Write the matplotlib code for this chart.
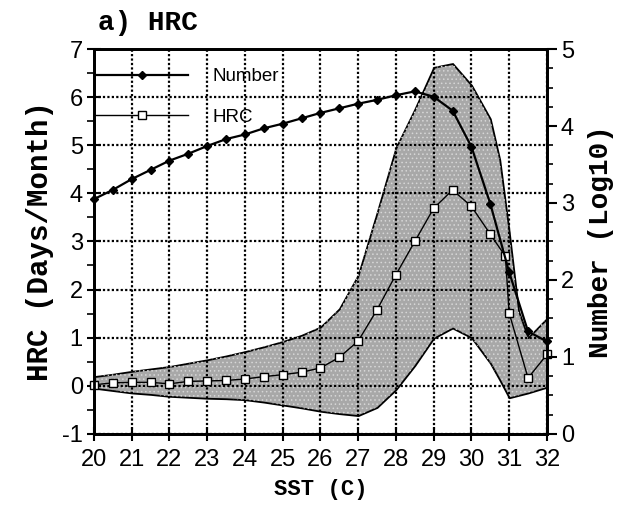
import matplotlib
matplotlib.use("Agg")
import matplotlib.pyplot as plt
from matplotlib.ticker import MultipleLocator

# SST bins (0.5 C steps)
SST = [20, 20.5, 21, 21.5, 22, 22.5, 23, 23.5, 24, 24.5, 25, 25.5, 26,
       26.5, 27, 27.5, 28, 28.5, 29, 29.5, 30, 30.5, 31, 31.5, 32]

# number of samples (log10), right axis
NUMBER = [3.05, 3.17, 3.31, 3.43, 3.55, 3.64, 3.74, 3.83, 3.89, 3.97, 4.03,
          4.10, 4.17, 4.23, 4.29, 4.34, 4.40, 4.45, 4.38, 4.20, 3.73, 2.99,
          2.10, 1.33, 1.20]

# HRC (days/month), left axis
HRC_SST = [20, 20.5, 21, 21.5, 22, 22.5, 23, 23.5, 24, 24.5, 25, 25.5, 26,
           26.5, 27, 27.5, 28, 28.5, 29, 29.5, 30, 30.5, 30.9, 31, 31.5, 32]
HRC = [0.02, 0.06, 0.07, 0.07, 0.04, 0.09, 0.10, 0.11, 0.14, 0.19, 0.23,
       0.28, 0.37, 0.59, 0.93, 1.58, 2.31, 3.0, 3.69, 4.07, 3.73, 3.15,
       2.69, 1.51, 0.16, 0.65]

# shaded spread band
BAND_SST = [20, 20.5, 21, 21.5, 22, 22.5, 23, 23.5, 24, 24.5, 25, 25.5, 26,
            26.5, 27, 27.5, 28, 28.5, 29, 29.5, 30, 30.5, 30.75, 31, 31.25,
            31.5, 32]
BAND_HI = [0.19, 0.24, 0.30, 0.35, 0.40, 0.47, 0.54, 0.62, 0.71, 0.81, 0.92,
           1.05, 1.22, 1.60, 2.30, 3.60, 4.95, 5.75, 6.62, 6.70, 6.25, 5.55,
           4.70, 3.20, 1.55, 1.00, 1.40]
BAND_LO = [-0.05, -0.10, -0.15, -0.18, -0.22, -0.24, -0.26, -0.27, -0.29,
           -0.34, -0.40, -0.46, -0.53, -0.58, -0.62, -0.45, -0.08, 0.42, 0.99,
           1.20, 1.00, 0.47, 0.12, -0.25, -0.20, -0.15, -0.03]

SANS = "Liberation Sans"
MONO = "Liberation Mono"

plt.rcParams["axes.unicode_minus"] = False
plt.rcParams["hatch.linewidth"] = 0.6

fig = plt.figure(figsize=(6.18, 5.11), dpi=100)
ax = fig.add_axes([0.152, 0.151, 0.733, 0.753])
ax2 = ax.twinx()

ax.fill_between(BAND_SST, BAND_LO, BAND_HI, facecolor="#a8a8a8",
                edgecolor="black", lw=1.3, zorder=1)
ax.fill_between(BAND_SST, BAND_LO, BAND_HI, facecolor="none",
                edgecolor="#d6d6d6", hatch="....", lw=0, zorder=1.1)

ax.set_axisbelow(False)
ax.grid(True, color="black", lw=1.6, linestyle=(0, (1, 1)), zorder=1.5)

hrc_line, = ax.plot(HRC_SST, HRC, color="black", lw=1.0, marker="s",
                    ms=6, mfc="white", mec="black", mew=1.0, zorder=3,
                    clip_on=False)
num_line, = ax2.plot(SST, NUMBER, color="black", lw=1.6, marker="D",
                     ms=4.5, zorder=3, clip_on=False)

ax.set_xlim(20, 32)
ax.set_ylim(-1, 7)
ax2.set_ylim(0, 5)

ax.xaxis.set_major_locator(MultipleLocator(1))
ax.yaxis.set_major_locator(MultipleLocator(1))
ax.yaxis.set_minor_locator(MultipleLocator(0.5))
ax2.yaxis.set_major_locator(MultipleLocator(1))
ax2.yaxis.set_minor_locator(MultipleLocator(0.25))

ax.tick_params(axis="x", direction="inout", length=10, width=1.5, pad=6,
               top=False)
ax.tick_params(axis="y", which="major", direction="inout", length=10,
               width=1.5, pad=3, right=False)
ax.tick_params(axis="y", which="minor", direction="out", length=5,
               width=1.2, right=False)
ax2.tick_params(axis="y", which="major", direction="out", length=7,
                width=1.5, pad=3)
ax2.tick_params(axis="y", which="minor", direction="out", length=4,
                width=1.2)

for a in (ax, ax2):
    for sp in a.spines.values():
        sp.set_linewidth(2.0)
    for lab in a.get_xticklabels() + a.get_yticklabels():
        lab.set_fontfamily(SANS)
        lab.set_fontsize(17)

ax.set_xlabel("SST (C)", family=MONO, fontweight="bold", fontsize=16,
              labelpad=6)
ax.set_ylabel("HRC (Days/Month)", family=MONO, fontweight="bold",
              fontsize=21, labelpad=6)
ax2.set_ylabel("Number (Log10)", family=MONO, fontweight="bold",
               fontsize=20, labelpad=10)
ax.set_title("a) HRC", family=MONO, fontweight="bold", fontsize=20,
             loc="left", x=0.01, pad=14)

ax2.legend([num_line, hrc_line], ["Number", "HRC"], loc="upper left",
           bbox_to_anchor=(-0.016, 0.975), frameon=False, handlelength=4.9,
           handletextpad=1.3, labelspacing=1.25, borderaxespad=0.1,
           prop={"family": SANS, "size": 13.5})

fig.savefig("out.png", dpi=100)
